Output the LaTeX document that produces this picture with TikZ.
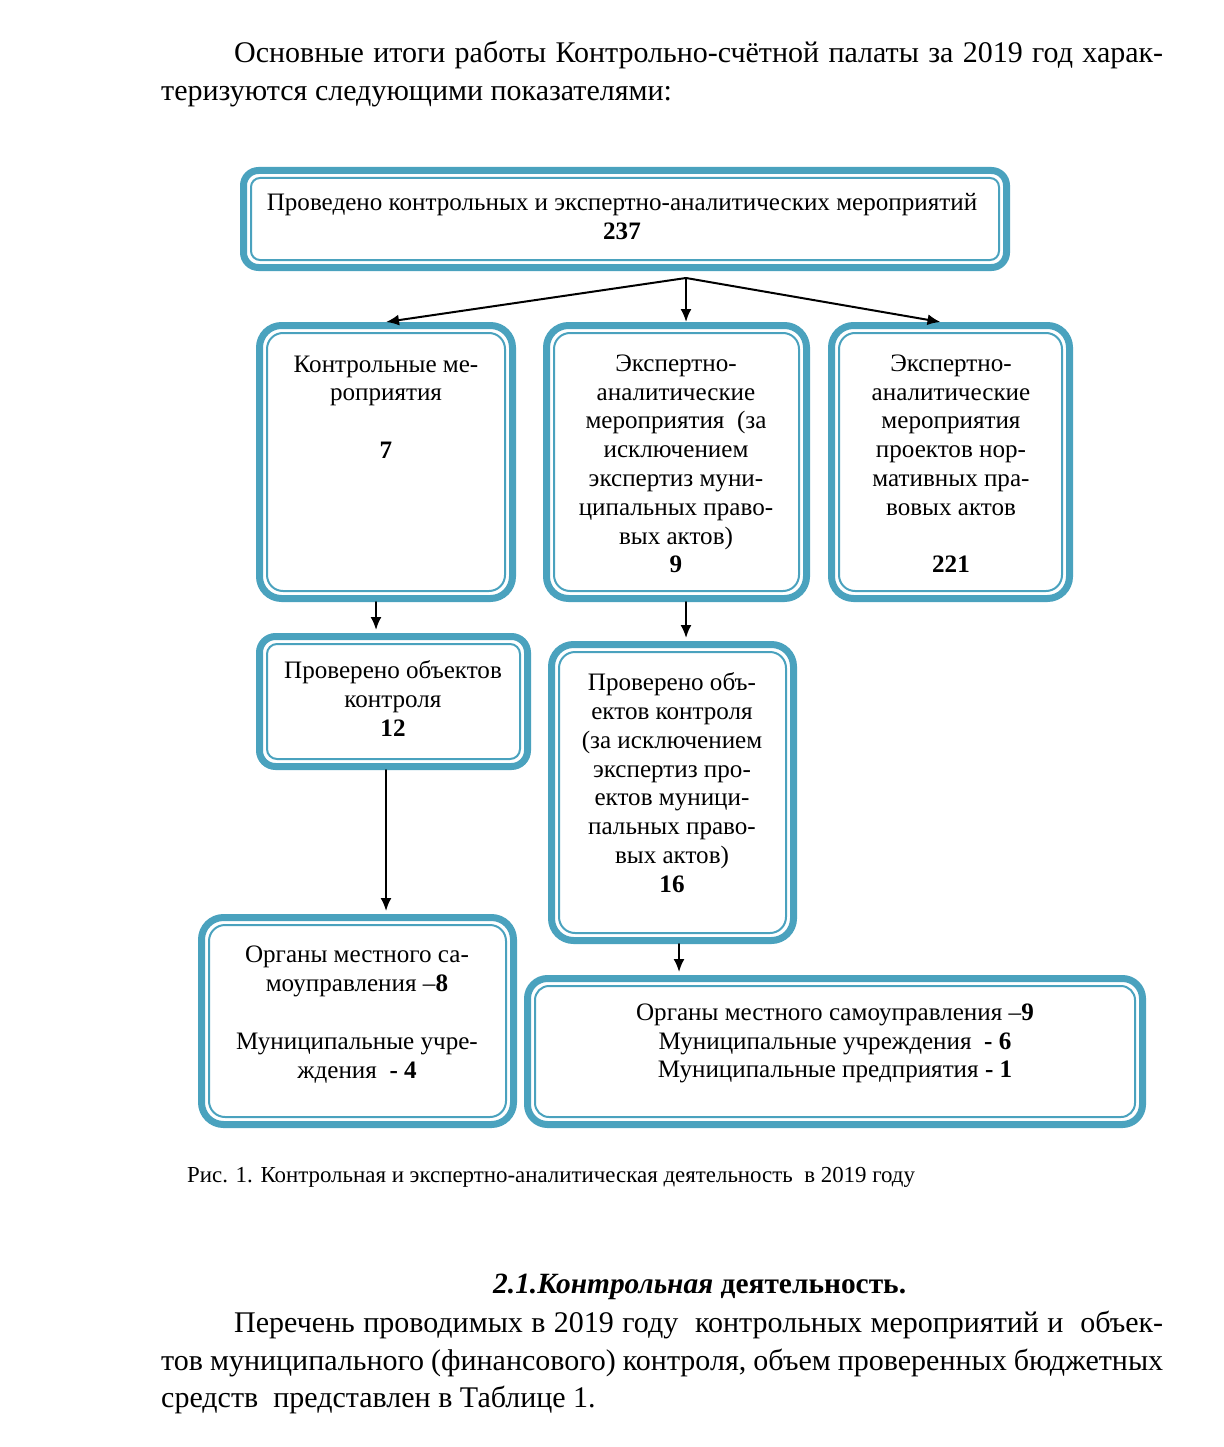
\documentclass[tikz,border=0pt]{standalone}
\usepackage{fontspec}
\setmainfont{Liberation Serif}
\usetikzlibrary{arrows.meta,calc}

\definecolor{boxteal}{RGB}{74,162,190}

\begin{document}
\begin{tikzpicture}[x=1pt,y=-1pt,line cap=round,line join=round,
  tbox/.style={draw=boxteal,line width=7pt,rounded corners=#1,inner sep=0pt,
    path picture={\draw[boxteal,line width=2pt,rounded corners=#1-6pt]
      ($(path picture bounding box.south west)+(7.5pt,7.5pt)$) rectangle
      ($(path picture bounding box.north east)-(7.5pt,7.5pt)$);}},
  btxt/.style={font=\fontsize{25.1}{28.8}\selectfont,align=center,inner sep=0pt,anchor=north},
  body/.style={font=\fontsize{30}{37.5}\selectfont,text width=1002pt,align=justify,inner sep=0pt,anchor=north west},
  arr/.style={line width=2pt,-{Latex[length=13pt,width=11pt]}}]
  \useasboundingbox (0,0) rectangle (1223,1447);
  % page text
  \node[body] (intro) at (161,41) {\hspace*{73pt}Основные итоги работы Контрольно-счётной палаты за 2019 год харак-\linebreak теризуются следующими показателями:};
  % boxes
  \node[tbox=15pt,minimum width=763pt,minimum height=97pt] (itogo) at (625,219) {};
  \node[tbox=22pt,minimum width=253pt,minimum height=273pt] (kontrol) at (386,462) {};
  \node[tbox=22pt,minimum width=260pt,minimum height=273pt] (ekspert) at (676.5,462) {};
  \node[tbox=22pt,minimum width=238pt,minimum height=273pt] (proekty) at (950.5,462) {};
  \node[tbox=16pt,minimum width=268pt,minimum height=130pt] (obekty) at (393.5,701.5) {};
  \node[tbox=22pt,minimum width=242pt,minimum height=296pt] (obektyEA) at (672.5,792.5) {};
  \node[tbox=22pt,minimum width=312pt,minimum height=207pt] (organy) at (357.5,1021) {};
  \node[tbox=20pt,minimum width=615pt,minimum height=146pt] (organyEA) at (835,1051.5) {};
  % box texts
  \node[btxt] (t-itogo) at (622,193.5) {Проведено контрольных и экспертно-аналитических мероприятий\\\textbf{237}};
  \node[btxt] (t-kontrol) at (386,355.5) {Контрольные ме-\\роприятия\\[28.8pt]\textbf{7}};
  \node[btxt] (t-ekspert) at (676,354.5) {Экспертно-\\аналитические\\мероприятия\ \ (за\\исключением\\экспертиз муни-\\ципальных право-\\вых актов)\\\textbf{9}};
  \node[btxt] (t-proekty) at (951,354.5) {Экспертно-\\аналитические\\мероприятия\\проектов нор-\\мативных пра-\\вовых актов\\[28.8pt]\textbf{221}};
  \node[btxt] (t-obekty) at (393,660.5) {Проверено объектов\\контроля\\\textbf{12}};
  \node[btxt] (t-obektyEA) at (672,672.5) {Проверено объ-\\ектов контроля\\(за исключением\\экспертиз про-\\ектов муници-\\пальных право-\\вых актов)\\\textbf{16}};
  \node[btxt] (t-organy) at (357,945.5) {Органы местного са-\\моуправления –\textbf{8}\\[29.5pt]Муниципальные учре-\\ждения\ \ \textbf{- 4}};
  \node[btxt] (t-organyEA) at (835,1003.5) {Органы местного самоуправления –\textbf{9}\\Муниципальные учреждения\ \ \textbf{- 6}\\Муниципальные предприятия \textbf{- 1}};
  % arrows
  \coordinate (fork) at (686,278);
  \draw[arr] (fork) -- (kontrol.north);
  \draw[arr] (fork) -- (fork |- ekspert.north);
  \draw[arr] (fork) -- ($(proekty.north)+(-10,0)$);
  \draw[arr,shorten >=3pt] ($(kontrol.south)+(-10,0)$) -- ($(obekty.north)+(-17.5,0)$);
  \draw[arr,shorten >=3pt] (ekspert.south -| fork) -- (obektyEA.north -| fork);
  \draw[arr,shorten >=3pt] ($(obekty.south)+(-7.5,0)$) -- ($(organy.north)+(28.5,0)$);
  \draw[arr,shorten >=3pt] ($(obektyEA.south)+(6.5,0)$) -- ($(organyEA.north)+(-156,0)$);
  % caption and next section
  \node[font=\fontsize{22.9}{27}\selectfont,inner sep=0pt,anchor=west] (caption) at (187,1177) {Рис. 1. Контрольная и экспертно-аналитическая деятельность\ \ в 2019 году};
  \node[font=\fontsize{29.4}{37.5}\selectfont\bfseries,inner sep=0pt,anchor=west] (section) at (493,1287) {\textit{2.1.Контрольная} деятельность.};
  \node[body] (para) at (161,1311) {\hspace*{73pt}Перечень проводимых в 2019 году\ \ контрольных мероприятий и\ \ объек-\linebreak тов муниципального (финансового) контроля, объем проверенных бюджетных\linebreak средств\ \ представлен в Таблице 1.};
\end{tikzpicture}
\end{document}
